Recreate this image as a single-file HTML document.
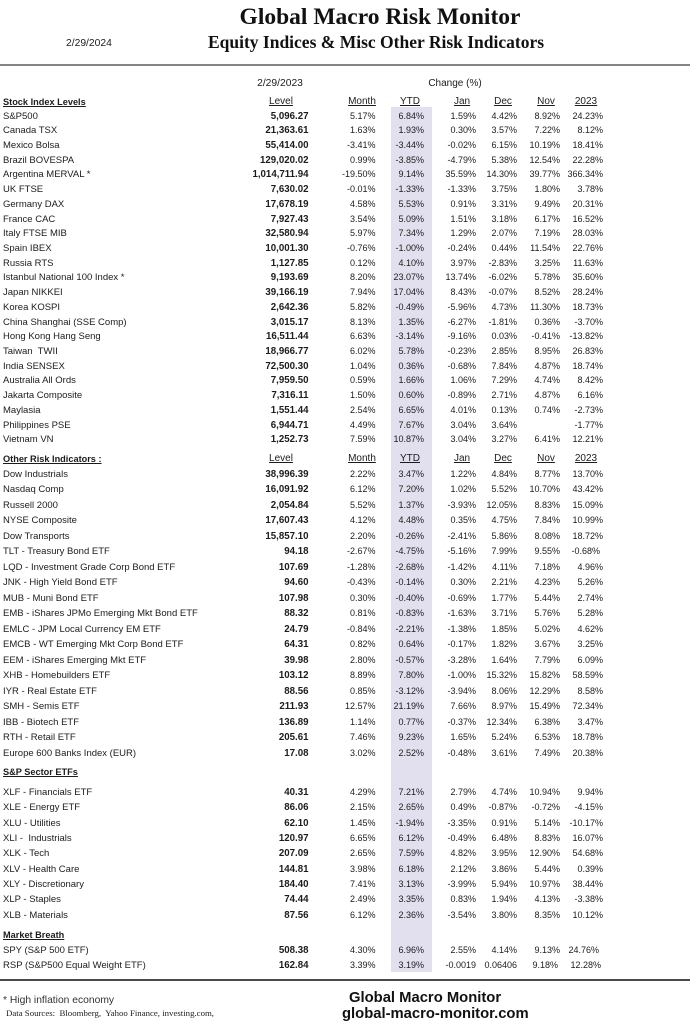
<!DOCTYPE html>
<html><head><meta charset="utf-8">
<style>
html,body{margin:0;padding:0;background:#fff;}
body{width:696px;height:1024px;position:relative;overflow:hidden;font-family:"Liberation Sans",Arial,sans-serif;color:#1c1c1c;}
.a{position:absolute;white-space:nowrap;}
.r{position:absolute;left:0;width:696px;height:14px;line-height:14px;}
.r span{position:absolute;top:-1px;height:14px;line-height:14px;white-space:pre;font-size:9px;}
.r .l{left:3px;font-size:9.5px;top:0;}
.r .v{right:387.5px;font-weight:bold;font-size:9.7px;top:0;}
.r .m{right:320.5px;}
.r .y{right:272px;}
.r .j{right:220px;}
.r .d{right:179px;}
.r .n{right:136px;}
.r .z{right:93px;}
.h span{font-size:10px;text-decoration:underline;width:60px;text-align:center;top:0;}
.h .s{left:3px;width:auto;text-align:left;font-weight:bold;font-size:9.2px;}
.h .c1{left:251px;}
.h .c2{left:332px;}
.h .c3{left:380px;}
.h .c4{left:432px;}
.h .c5{left:473px;}
.h .c6{left:516px;}
.h .c7{left:556px;}
.sec{position:absolute;left:3px;height:14px;line-height:14px;font-weight:bold;font-size:9.2px;text-decoration:underline;white-space:nowrap;}
</style></head><body>

<div class="a" style="left:391px;top:107px;width:41px;height:865px;background:#e2dfee;"></div>

<div class="a" style="left:130px;top:2.8px;width:500px;text-align:center;font-family:'Liberation Serif',serif;font-weight:bold;font-size:23.5px;line-height:28px;color:#111;">Global Macro Risk Monitor</div>
<div class="a" style="left:126px;top:30.6px;width:500px;text-align:center;font-family:'Liberation Serif',serif;font-weight:bold;font-size:17.5px;line-height:22px;color:#111;">Equity Indices &amp; Misc Other Risk Indicators</div>
<div class="a" style="left:66px;top:37px;font-size:10.3px;line-height:14px;">2/29/2024</div>

<div class="a" style="left:0;top:63.5px;width:690px;height:2px;background:#858585;"></div>

<div class="a" style="left:230px;top:77px;width:100px;text-align:center;font-size:10.3px;line-height:14px;">2/29/2023</div>
<div class="a" style="left:405px;top:77px;width:100px;text-align:center;font-size:10px;line-height:14px;">Change (%)</div>

<div class="r h" style="top:94.7px"><span class="s">Stock Index Levels</span><span class="c1">Level</span><span class="c2">Month</span><span class="c3">YTD</span><span class="c4">Jan</span><span class="c5">Dec</span><span class="c6">Nov</span><span class="c7">2023</span></div>

<div class="r" style="top:109.5px"><span class="l">S&amp;P500</span><span class="v">5,096.27</span><span class="m">5.17%</span><span class="y">6.84%</span><span class="j">1.59%</span><span class="d">4.42%</span><span class="n">8.92%</span><span class="z">24.23%</span></div>
<div class="r" style="top:124.22px"><span class="l">Canada TSX</span><span class="v">21,363.61</span><span class="m">1.63%</span><span class="y">1.93%</span><span class="j">0.30%</span><span class="d">3.57%</span><span class="n">7.22%</span><span class="z">8.12%</span></div>
<div class="r" style="top:138.94px"><span class="l">Mexico Bolsa</span><span class="v">55,414.00</span><span class="m">-3.41%</span><span class="y">-3.44%</span><span class="j">-0.02%</span><span class="d">6.15%</span><span class="n">10.19%</span><span class="z">18.41%</span></div>
<div class="r" style="top:153.66px"><span class="l">Brazil BOVESPA</span><span class="v">129,020.02</span><span class="m">0.99%</span><span class="y">-3.85%</span><span class="j">-4.79%</span><span class="d">5.38%</span><span class="n">12.54%</span><span class="z">22.28%</span></div>
<div class="r" style="top:168.38px"><span class="l">Argentina MERVAL *</span><span class="v">1,014,711.94</span><span class="m">-19.50%</span><span class="y">9.14%</span><span class="j">35.59%</span><span class="d">14.30%</span><span class="n">39.77%</span><span class="z">366.34%</span></div>
<div class="r" style="top:183.1px"><span class="l">UK FTSE</span><span class="v">7,630.02</span><span class="m">-0.01%</span><span class="y">-1.33%</span><span class="j">-1.33%</span><span class="d">3.75%</span><span class="n">1.80%</span><span class="z">3.78%</span></div>
<div class="r" style="top:197.82px"><span class="l">Germany DAX</span><span class="v">17,678.19</span><span class="m">4.58%</span><span class="y">5.53%</span><span class="j">0.91%</span><span class="d">3.31%</span><span class="n">9.49%</span><span class="z">20.31%</span></div>
<div class="r" style="top:212.54px"><span class="l">France CAC</span><span class="v">7,927.43</span><span class="m">3.54%</span><span class="y">5.09%</span><span class="j">1.51%</span><span class="d">3.18%</span><span class="n">6.17%</span><span class="z">16.52%</span></div>
<div class="r" style="top:227.26px"><span class="l">Italy FTSE MIB</span><span class="v">32,580.94</span><span class="m">5.97%</span><span class="y">7.34%</span><span class="j">1.29%</span><span class="d">2.07%</span><span class="n">7.19%</span><span class="z">28.03%</span></div>
<div class="r" style="top:241.98px"><span class="l">Spain IBEX</span><span class="v">10,001.30</span><span class="m">-0.76%</span><span class="y">-1.00%</span><span class="j">-0.24%</span><span class="d">0.44%</span><span class="n">11.54%</span><span class="z">22.76%</span></div>
<div class="r" style="top:256.7px"><span class="l">Russia RTS</span><span class="v">1,127.85</span><span class="m">0.12%</span><span class="y">4.10%</span><span class="j">3.97%</span><span class="d">-2.83%</span><span class="n">3.25%</span><span class="z">11.63%</span></div>
<div class="r" style="top:271.42px"><span class="l">Istanbul National 100 Index *</span><span class="v">9,193.69</span><span class="m">8.20%</span><span class="y">23.07%</span><span class="j">13.74%</span><span class="d">-6.02%</span><span class="n">5.78%</span><span class="z">35.60%</span></div>
<div class="r" style="top:286.14px"><span class="l">Japan NIKKEI</span><span class="v">39,166.19</span><span class="m">7.94%</span><span class="y">17.04%</span><span class="j">8.43%</span><span class="d">-0.07%</span><span class="n">8.52%</span><span class="z">28.24%</span></div>
<div class="r" style="top:300.86px"><span class="l">Korea KOSPI</span><span class="v">2,642.36</span><span class="m">5.82%</span><span class="y">-0.49%</span><span class="j">-5.96%</span><span class="d">4.73%</span><span class="n">11.30%</span><span class="z">18.73%</span></div>
<div class="r" style="top:315.58px"><span class="l">China Shanghai (SSE Comp)</span><span class="v">3,015.17</span><span class="m">8.13%</span><span class="y">1.35%</span><span class="j">-6.27%</span><span class="d">-1.81%</span><span class="n">0.36%</span><span class="z">-3.70%</span></div>
<div class="r" style="top:330.3px"><span class="l">Hong Kong Hang Seng</span><span class="v">16,511.44</span><span class="m">6.63%</span><span class="y">-3.14%</span><span class="j">-9.16%</span><span class="d">0.03%</span><span class="n">-0.41%</span><span class="z">-13.82%</span></div>
<div class="r" style="top:345.02px"><span class="l">Taiwan  TWII</span><span class="v">18,966.77</span><span class="m">6.02%</span><span class="y">5.78%</span><span class="j">-0.23%</span><span class="d">2.85%</span><span class="n">8.95%</span><span class="z">26.83%</span></div>
<div class="r" style="top:359.74px"><span class="l">India SENSEX</span><span class="v">72,500.30</span><span class="m">1.04%</span><span class="y">0.36%</span><span class="j">-0.68%</span><span class="d">7.84%</span><span class="n">4.87%</span><span class="z">18.74%</span></div>
<div class="r" style="top:374.46px"><span class="l">Australia All Ords</span><span class="v">7,959.50</span><span class="m">0.59%</span><span class="y">1.66%</span><span class="j">1.06%</span><span class="d">7.29%</span><span class="n">4.74%</span><span class="z">8.42%</span></div>
<div class="r" style="top:389.18px"><span class="l">Jakarta Composite</span><span class="v">7,316.11</span><span class="m">1.50%</span><span class="y">0.60%</span><span class="j">-0.89%</span><span class="d">2.71%</span><span class="n">4.87%</span><span class="z">6.16%</span></div>
<div class="r" style="top:403.9px"><span class="l">Maylasia</span><span class="v">1,551.44</span><span class="m">2.54%</span><span class="y">6.65%</span><span class="j">4.01%</span><span class="d">0.13%</span><span class="n">0.74%</span><span class="z">-2.73%</span></div>
<div class="r" style="top:418.62px"><span class="l">Philippines PSE</span><span class="v">6,944.71</span><span class="m">4.49%</span><span class="y">7.67%</span><span class="j">3.04%</span><span class="d">3.64%</span><span class="z">-1.77%</span></div>
<div class="r" style="top:433.34px"><span class="l">Vietnam VN</span><span class="v">1,252.73</span><span class="m">7.59%</span><span class="y">10.87%</span><span class="j">3.04%</span><span class="d">3.27%</span><span class="n">6.41%</span><span class="z">12.21%</span></div>

<div class="r h" style="top:451.5px"><span class="s">Other Risk Indicators :</span><span class="c1">Level</span><span class="c2">Month</span><span class="c3">YTD</span><span class="c4">Jan</span><span class="c5">Dec</span><span class="c6">Nov</span><span class="c7">2023</span></div>

<div class="r" style="top:467.5px"><span class="l">Dow Industrials</span><span class="v">38,996.39</span><span class="m">2.22%</span><span class="y">3.47%</span><span class="j">1.22%</span><span class="d">4.84%</span><span class="n">8.77%</span><span class="z">13.70%</span></div>
<div class="r" style="top:483.02px"><span class="l">Nasdaq Comp</span><span class="v">16,091.92</span><span class="m">6.12%</span><span class="y">7.20%</span><span class="j">1.02%</span><span class="d">5.52%</span><span class="n">10.70%</span><span class="z">43.42%</span></div>
<div class="r" style="top:498.54px"><span class="l">Russell 2000</span><span class="v">2,054.84</span><span class="m">5.52%</span><span class="y">1.37%</span><span class="j">-3.93%</span><span class="d">12.05%</span><span class="n">8.83%</span><span class="z">15.09%</span></div>
<div class="r" style="top:514.06px"><span class="l">NYSE Composite</span><span class="v">17,607.43</span><span class="m">4.12%</span><span class="y">4.48%</span><span class="j">0.35%</span><span class="d">4.75%</span><span class="n">7.84%</span><span class="z">10.99%</span></div>
<div class="r" style="top:529.58px"><span class="l">Dow Transports</span><span class="v">15,857.10</span><span class="m">2.20%</span><span class="y">-0.26%</span><span class="j">-2.41%</span><span class="d">5.86%</span><span class="n">8.08%</span><span class="z">18.72%</span></div>
<div class="r" style="top:545.1px"><span class="l">TLT - Treasury Bond ETF</span><span class="v">94.18</span><span class="m">-2.67%</span><span class="y">-4.75%</span><span class="j">-5.16%</span><span class="d">7.99%</span><span class="n">9.55%</span><span class="z" style="right:96px">-0.68%</span></div>
<div class="r" style="top:560.62px"><span class="l">LQD - Investment Grade Corp Bond ETF</span><span class="v">107.69</span><span class="m">-1.28%</span><span class="y">-2.68%</span><span class="j">-1.42%</span><span class="d">4.11%</span><span class="n">7.18%</span><span class="z">4.96%</span></div>
<div class="r" style="top:576.14px"><span class="l">JNK - High Yield Bond ETF</span><span class="v">94.60</span><span class="m">-0.43%</span><span class="y">-0.14%</span><span class="j">0.30%</span><span class="d">2.21%</span><span class="n">4.23%</span><span class="z">5.26%</span></div>
<div class="r" style="top:591.66px"><span class="l">MUB - Muni Bond ETF</span><span class="v">107.98</span><span class="m">0.30%</span><span class="y">-0.40%</span><span class="j">-0.69%</span><span class="d">1.77%</span><span class="n">5.44%</span><span class="z">2.74%</span></div>
<div class="r" style="top:607.18px"><span class="l">EMB - iShares JPMo Emerging Mkt Bond ETF</span><span class="v">88.32</span><span class="m">0.81%</span><span class="y">-0.83%</span><span class="j">-1.63%</span><span class="d">3.71%</span><span class="n">5.76%</span><span class="z">5.28%</span></div>
<div class="r" style="top:622.7px"><span class="l">EMLC - JPM Local Currency EM ETF</span><span class="v">24.79</span><span class="m">-0.84%</span><span class="y">-2.21%</span><span class="j">-1.38%</span><span class="d">1.85%</span><span class="n">5.02%</span><span class="z">4.62%</span></div>
<div class="r" style="top:638.22px"><span class="l">EMCB - WT Emerging Mkt Corp Bond ETF</span><span class="v">64.31</span><span class="m">0.82%</span><span class="y">0.64%</span><span class="j">-0.17%</span><span class="d">1.82%</span><span class="n">3.67%</span><span class="z">3.25%</span></div>
<div class="r" style="top:653.74px"><span class="l">EEM - iShares Emerging Mkt ETF</span><span class="v">39.98</span><span class="m">2.80%</span><span class="y">-0.57%</span><span class="j">-3.28%</span><span class="d">1.64%</span><span class="n">7.79%</span><span class="z">6.09%</span></div>
<div class="r" style="top:669.26px"><span class="l">XHB - Homebuilders ETF</span><span class="v">103.12</span><span class="m">8.89%</span><span class="y">7.80%</span><span class="j">-1.00%</span><span class="d">15.32%</span><span class="n">15.82%</span><span class="z">58.59%</span></div>
<div class="r" style="top:684.78px"><span class="l">IYR - Real Estate ETF</span><span class="v">88.56</span><span class="m">0.85%</span><span class="y">-3.12%</span><span class="j">-3.94%</span><span class="d">8.06%</span><span class="n">12.29%</span><span class="z">8.58%</span></div>
<div class="r" style="top:700.3px"><span class="l">SMH - Semis ETF</span><span class="v">211.93</span><span class="m">12.57%</span><span class="y">21.19%</span><span class="j">7.66%</span><span class="d">8.97%</span><span class="n">15.49%</span><span class="z">72.34%</span></div>
<div class="r" style="top:715.82px"><span class="l">IBB - Biotech ETF</span><span class="v">136.89</span><span class="m">1.14%</span><span class="y">0.77%</span><span class="j">-0.37%</span><span class="d">12.34%</span><span class="n">6.38%</span><span class="z">3.47%</span></div>
<div class="r" style="top:731.34px"><span class="l">RTH - Retail ETF</span><span class="v">205.61</span><span class="m">7.46%</span><span class="y">9.23%</span><span class="j">1.65%</span><span class="d">5.24%</span><span class="n">6.53%</span><span class="z">18.78%</span></div>
<div class="r" style="top:746.86px"><span class="l">Europe 600 Banks Index (EUR)</span><span class="v">17.08</span><span class="m">3.02%</span><span class="y">2.52%</span><span class="j">-0.48%</span><span class="d">3.61%</span><span class="n">7.49%</span><span class="z">20.38%</span></div>

<div class="sec" style="top:765px">S&amp;P Sector ETFs</div>

<div class="r" style="top:786.2px"><span class="l">XLF - Financials ETF</span><span class="v">40.31</span><span class="m">4.29%</span><span class="y">7.21%</span><span class="j">2.79%</span><span class="d">4.74%</span><span class="n">10.94%</span><span class="z">9.94%</span></div>
<div class="r" style="top:801.49px"><span class="l">XLE - Energy ETF</span><span class="v">86.06</span><span class="m">2.15%</span><span class="y">2.65%</span><span class="j">0.49%</span><span class="d">-0.87%</span><span class="n">-0.72%</span><span class="z">-4.15%</span></div>
<div class="r" style="top:816.78px"><span class="l">XLU - Utilities</span><span class="v">62.10</span><span class="m">1.45%</span><span class="y">-1.94%</span><span class="j">-3.35%</span><span class="d">0.91%</span><span class="n">5.14%</span><span class="z">-10.17%</span></div>
<div class="r" style="top:832.07px"><span class="l">XLI -  Industrials</span><span class="v">120.97</span><span class="m">6.65%</span><span class="y">6.12%</span><span class="j">-0.49%</span><span class="d">6.48%</span><span class="n">8.83%</span><span class="z">16.07%</span></div>
<div class="r" style="top:847.36px"><span class="l">XLK - Tech</span><span class="v">207.09</span><span class="m">2.65%</span><span class="y">7.59%</span><span class="j">4.82%</span><span class="d">3.95%</span><span class="n">12.90%</span><span class="z">54.68%</span></div>
<div class="r" style="top:862.65px"><span class="l">XLV - Health Care</span><span class="v">144.81</span><span class="m">3.98%</span><span class="y">6.18%</span><span class="j">2.12%</span><span class="d">3.86%</span><span class="n">5.44%</span><span class="z">0.39%</span></div>
<div class="r" style="top:877.94px"><span class="l">XLY - Discretionary</span><span class="v">184.40</span><span class="m">7.41%</span><span class="y">3.13%</span><span class="j">-3.99%</span><span class="d">5.94%</span><span class="n">10.97%</span><span class="z">38.44%</span></div>
<div class="r" style="top:893.23px"><span class="l">XLP - Staples</span><span class="v">74.44</span><span class="m">2.49%</span><span class="y">3.35%</span><span class="j">0.83%</span><span class="d">1.94%</span><span class="n">4.13%</span><span class="z">-3.38%</span></div>
<div class="r" style="top:908.52px"><span class="l">XLB - Materials</span><span class="v">87.56</span><span class="m">6.12%</span><span class="y">2.36%</span><span class="j">-3.54%</span><span class="d">3.80%</span><span class="n">8.35%</span><span class="z">10.12%</span></div>

<div class="sec" style="top:928.3px">Market Breath</div>

<div class="r" style="top:943.5px"><span class="l">SPY (S&amp;P 500 ETF)</span><span class="v">508.38</span><span class="m">4.30%</span><span class="y">6.96%</span><span class="j">2.55%</span><span class="d">4.14%</span><span class="n">9.13%</span><span class="z" style="right:97px">24.76%</span></div>
<div class="r" style="top:958.5px"><span class="l">RSP (S&amp;P500 Equal Weight ETF)</span><span class="v">162.84</span><span class="m">3.39%</span><span class="y">3.19%</span><span class="j">-0.0019</span><span class="d">0.06406</span><span class="n" style="right:138px">9.18%</span><span class="z" style="right:95px">12.28%</span></div>

<div class="a" style="left:0;top:979px;width:690px;height:2px;background:#4a4a4a;"></div>

<div class="a" style="left:3px;top:993.7px;font-size:10.3px;line-height:14px;color:#333;">* High inflation economy</div>
<div class="a" style="left:6px;top:1005.5px;font-family:'Liberation Serif',serif;font-size:8.8px;line-height:14px;color:#222;white-space:pre;">Data Sources:  Bloomberg,  Yahoo Finance, investing.com,</div>

<div class="a" style="left:349px;top:991px;font-weight:bold;font-size:14.8px;line-height:15px;color:#111;">Global Macro Monitor</div>
<div class="a" style="left:342px;top:1007px;font-weight:bold;font-size:14.8px;line-height:15px;color:#111;">global-macro-monitor.com</div>

</body></html>
